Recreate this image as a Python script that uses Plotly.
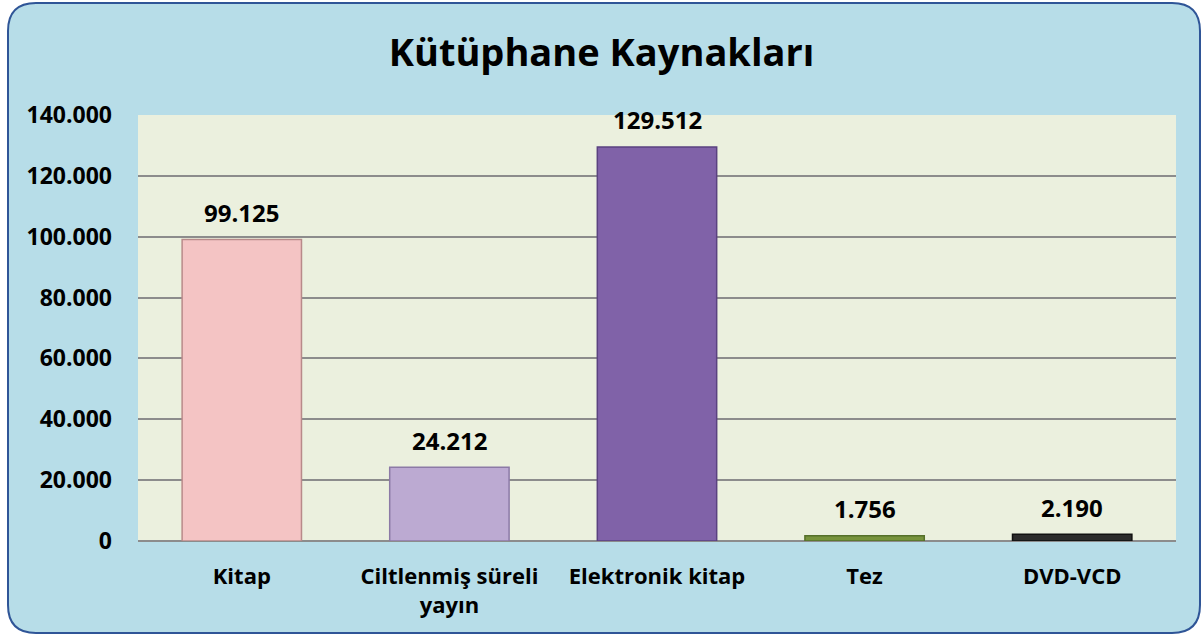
import plotly.graph_objects as go

categories = ["Kitap", "Ciltlenmiş süreli<br>yayın", "Elektronik kitap", "Tez", "DVD-VCD"]
values = [99125, 24212, 129512, 1756, 2190]
bar_colors = ["#F4C4C4", "#BCAAD2", "#8062A8", "#77933C", "#2B2B2B"]
edge_colors = ["#B88A8A", "#8C7AA6", "#5A4280", "#55702A", "#111111"]
tick_vals = [0, 20000, 40000, 60000, 80000, 100000, 120000, 140000]

FONT = "Open Sans"
W, H = 1203, 637
ML, MR, MT, MB = 138, 27, 115, 96

fig = go.Figure(go.Bar(
    x=categories, y=values,
    marker=dict(color=bar_colors, line=dict(color=edge_colors, width=1.5)),
    hoverinfo="x+y",
))

for c, v in zip(categories, values):
    fig.add_annotation(x=c, y=v, text=f"{v:,}".replace(",", "."), showarrow=False,
                       yanchor="middle", yshift=27,
                       font=dict(family=FONT, size=24, color="#000000", weight="bold"))

fig.update_layout(
    width=W, height=H,
    separators=",.",
    paper_bgcolor="rgba(0,0,0,0)",
    plot_bgcolor="rgba(0,0,0,0)",
    margin=dict(l=ML, r=MR, t=MT, b=MB),
    bargap=0.425,
    title=dict(text="Kütüphane Kaynakları", x=0.5, xanchor="center",
               y=1 - 53/H, yanchor="middle",
               font=dict(family=FONT, size=38, color="#000000", weight="bold")),
    showlegend=False,
    xaxis=dict(tickfont=dict(family=FONT, size=22, color="#000000", weight="bold"),
               ticklabelstandoff=20, showgrid=False, showline=False),
    yaxis=dict(range=[0, 140000], tickvals=tick_vals, tickformat=",d",
               tickfont=dict(family=FONT, size=23, color="#000000", weight="bold"),
               gridcolor="#8C8C8C", gridwidth=1.5, zeroline=True,
               zerolinecolor="#8C8C8C", zerolinewidth=1.5, ticks="", ticklabelstandoff=25),
)

# rounded background panel (pixel coords converted to paper coords)
x0, y0, x1, y1, r = 8, 3, 1200, 633, 28
path = (f"M {x0+r},{y0} L {x1-r},{y0} Q {x1},{y0} {x1},{y0+r} "
        f"L {x1},{y1-r} Q {x1},{y1} {x1-r},{y1} L {x0+r},{y1} "
        f"Q {x0},{y1} {x0},{y1-r} L {x0},{y0+r} Q {x0},{y0} {x0+r},{y0} Z")

def to_paper(p):
    out = []
    for tok in p.split():
        if "," in tok:
            a, b = tok.split(",")
            xp = (float(a) - ML) / (W - ML - MR)
            yp = (H - MB - float(b)) / (H - MT - MB)
            out.append(f"{xp:.5f},{yp:.5f}")
        else:
            out.append(tok)
    return " ".join(out)

fig.add_shape(type="path", path=to_paper(path), xref="paper", yref="paper",
              fillcolor="#B7DDE8", line=dict(color="#2F5597", width=2), layer="below")
fig.add_shape(type="rect", x0=0, x1=1, y0=0, y1=1, xref="paper", yref="paper",
              fillcolor="#EBF0DE", line=dict(width=0), layer="below")

fig.write_html("out.html", config={"displayModeBar": False},
               post_script="document.body.style.margin='0';document.body.style.padding='0';window.dispatchEvent(new Event('resize'));")
